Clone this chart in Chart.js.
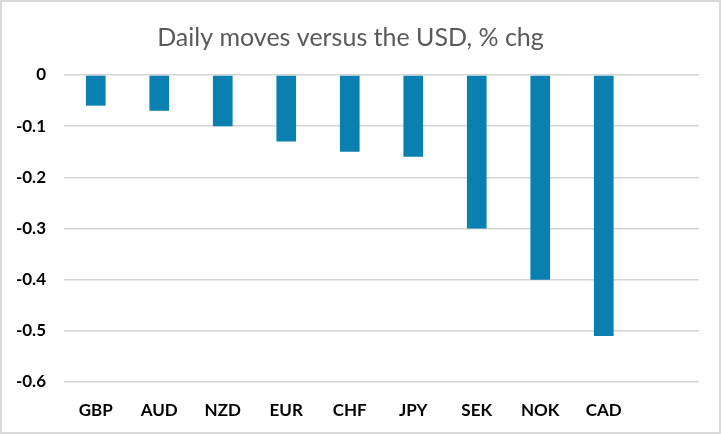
<!DOCTYPE html>
<html>
<head>
<meta charset="utf-8">
<script src="https://cdn.jsdelivr.net/npm/chart.js@4/dist/chart.umd.min.js"></script>
<style>
  html, body { margin: 0; padding: 0; background: #fff; }
  #wrap { width: 721px; height: 434px; box-sizing: border-box; border: 2px solid #d9d9d9; }
  #chart { display: block; }
</style>
</head>
<body>
<div id="wrap"><canvas id="chart" width="717" height="430"></canvas></div>
<script>
const categories = ['GBP', 'AUD', 'NZD', 'EUR', 'CHF', 'JPY', 'SEK', 'NOK', 'CAD'];
const moves = [-0.06, -0.07, -0.1, -0.13, -0.15, -0.16, -0.3, -0.4, -0.51];
const yTicks = [0, -0.1, -0.2, -0.3, -0.4, -0.5, -0.6];

const barColor = '#0A80B0';
const gridColor = '#d4d4d4';

// the original leaves one empty slot on the right
const labels = [...categories, ''];

const ctx = document.getElementById('chart').getContext('2d');
new Chart(ctx, {
    type: 'bar',
    data: {
        labels: labels,
        datasets: [{
            data: moves,
            backgroundColor: barColor,
            categoryPercentage: 1,
            barPercentage: 0.31
        }]
    },
    options: {
        responsive: false,
        animation: false,
        layout: { padding: { left: 0, right: 20, top: 0, bottom: 0 } },
        plugins: {
            legend: { display: false },
            tooltip: { enabled: false },
            title: {
                display: true,
                text: 'Daily moves versus the USD, % chg',
                color: '#595959',
                font: { family: 'Lato', size: 25, weight: 'normal' },
                padding: { top: 21, bottom: 22 }
            }
        },
        scales: {
            x: {
                grid: { display: false, drawTicks: false },
                border: { display: false },
                ticks: {
                    color: '#000',
                    font: { family: 'Lato', size: 17, weight: 'bold' },
                    padding: 18,
                    maxRotation: 0,
                    autoSkip: false
                },
                afterFit: (scale) => { scale.height = 50; }
            },
            y: {
                min: Math.min(...yTicks),
                max: Math.max(...yTicks),
                afterBuildTicks: (scale) => { scale.ticks = yTicks.map(v => ({ value: v })); },
                grid: { color: gridColor, lineWidth: 1.4, drawTicks: false },
                border: { display: false },
                ticks: {
                    color: '#000',
                    font: { family: 'Lato', size: 17, weight: 'bold' },
                    padding: 18,
                    callback: (v) => Number(v.toFixed(1)).toString()
                },
                afterFit: (scale) => { scale.width = 62; }
            }
        }
    }
});
</script>
</body>
</html>
